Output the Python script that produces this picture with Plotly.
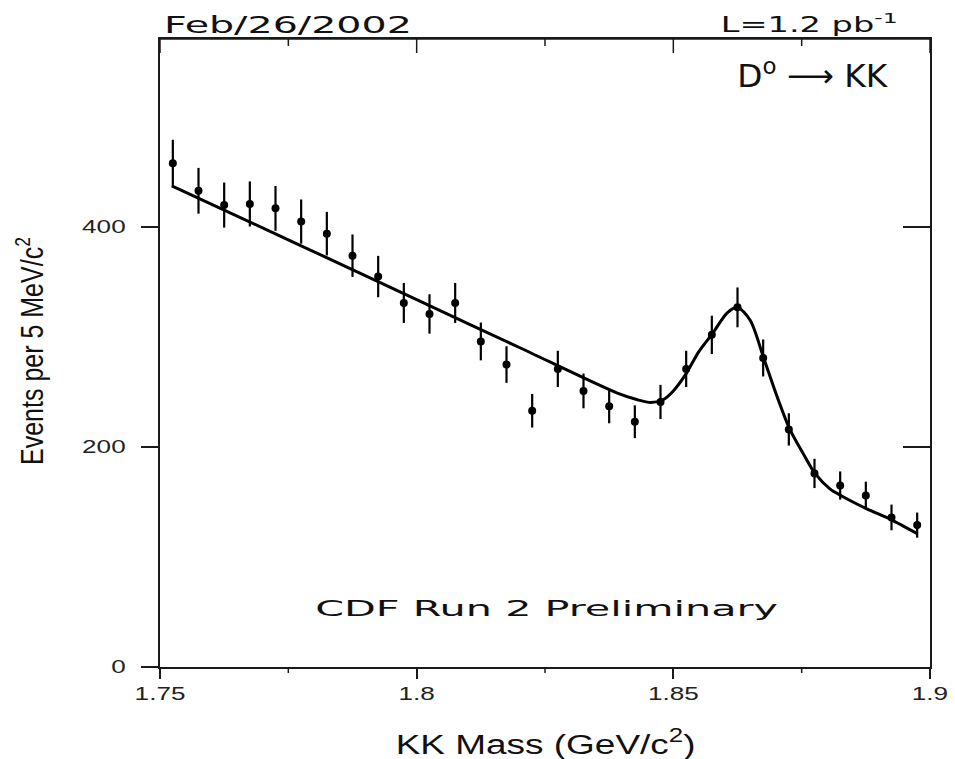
import json
import plotly.graph_objects as go

# KK invariant-mass histogram: bin centres (GeV/c^2), counts per 5 MeV/c^2 and Poisson errors
bin_mass = [1.7525, 1.7575, 1.7625, 1.7675, 1.7725, 1.7775, 1.7825, 1.7875, 1.7925, 1.7975,
            1.8025, 1.8075, 1.8125, 1.8175, 1.8225, 1.8275, 1.8325, 1.8375, 1.8425, 1.8475,
            1.8525, 1.8575, 1.8625, 1.8675, 1.8725, 1.8775, 1.8825, 1.8875, 1.8925, 1.8975]
events = [458, 433, 420, 421, 417, 405, 394, 374, 355, 331,
          321, 331, 296, 275, 233, 271, 251, 237, 223, 241,
          271, 302, 327, 281, 216, 176, 165, 156, 136, 129]
errors = [21.4, 20.8, 20.5, 20.5, 20.4, 20.1, 19.8, 19.3, 18.8, 18.2,
          17.9, 18.2, 17.2, 16.6, 15.3, 16.5, 15.8, 15.4, 14.9, 15.5,
          16.5, 17.4, 18.1, 16.8, 14.7, 13.3, 12.8, 12.5, 11.7, 11.4]

# fitted curve (linear background + D0 peak)
fit_mass = [1.7523, 1.7775, 1.8000, 1.8200, 1.8391, 1.8430, 1.8456, 1.8480, 1.8500, 1.8524,
            1.8550, 1.8576, 1.8605, 1.8625, 1.8650, 1.8676, 1.8702, 1.8726, 1.8753, 1.8776,
            1.8805, 1.8828, 1.8876, 1.8924, 1.8976]
fit_events = [437.5, 383, 334, 290.5, 249, 243, 240.5, 243, 251, 266,
              287, 303, 322, 327, 315, 281, 246, 217, 194, 176,
              162, 155.5, 144, 134, 121]

# axis ticks
x_ticks = [1.75, 1.80, 1.85, 1.90]
x_tick_text = ["1.75", "1.8", "1.85", "1.9"]
x_minor = [1.775, 1.825, 1.875]
y_ticks = [0, 200, 400]
y_tick_text = ["0", "200", "400"]

X_RANGE = [1.75, 1.9]
Y_RANGE = [0, 571]
INK = "#1a1a1a"
SANS = "Liberation Sans, Arial, sans-serif"
PLAIN = "DejaVu Sans, sans-serif"
PLOT_H = 628  # plot-area height in px, used to size the frame ticks

fig = go.Figure()
fig.add_trace(go.Scatter(
    x=fit_mass, y=fit_events, mode="lines",
    line=dict(color="black", width=3, shape="spline", smoothing=0.8),
    hoverinfo="skip", showlegend=False,
))
fig.add_trace(go.Scatter(
    x=bin_mass, y=events, mode="markers",
    marker=dict(symbol="circle", size=8, color="black"),
    error_y=dict(type="data", array=errors, visible=True, color="black", thickness=2.2, width=0),
    showlegend=False,
))
# transparent copy of the points binds the right-hand frame axis
fig.add_trace(go.Scatter(x=bin_mass, y=events, xaxis="x", yaxis="y2", mode="markers",
                         marker=dict(size=1, opacity=0), hoverinfo="skip", showlegend=False))

# top edge of the frame with its inward ticks, drawn in axis units
top = Y_RANGE[1]
per_px = (Y_RANGE[1] - Y_RANGE[0]) / PLOT_H
top_x, top_y = [X_RANGE[0], X_RANGE[1], None], [top, top, None]
for v in x_ticks:
    top_x += [v, v, None]
    top_y += [top, top - 14 * per_px, None]
for v in x_minor:
    top_x += [v, v, None]
    top_y += [top, top - 7 * per_px, None]
fig.add_trace(go.Scatter(x=top_x, y=top_y, mode="lines", line=dict(color=INK, width=1.5),
                         cliponaxis=False, hoverinfo="skip", showlegend=False))

tick_style = dict(tickwidth=1.5, tickcolor=INK, showgrid=False, zeroline=False)
tickfont = dict(family=SANS, size=18, color="#222")

# short ticks under the bottom axis
frame_line = dict(color=INK, width=1.5)
shapes = [dict(type="line", xref="x", yref="paper", x0=v, x1=v, y0=0, y1=-6 / PLOT_H,
               line=frame_line, layer="above") for v in x_minor]

fig.update_layout(
    width=955, height=759, autosize=False,
    margin=dict(l=160, r=20, t=39, b=92, pad=0),
    paper_bgcolor="white", plot_bgcolor="white",
    xaxis=dict(range=X_RANGE, tickmode="array", tickvals=x_ticks, ticktext=x_tick_text,
               ticks="outside", ticklen=10, tickfont=tickfont, ticklabelstandoff=0,
               showline=True, mirror=True, linecolor=INK, linewidth=1.5, **tick_style),
    yaxis=dict(range=Y_RANGE, tickmode="array", tickvals=y_ticks, ticktext=y_tick_text,
               ticks="outside", ticklen=17, tickfont=tickfont, ticklabelstandoff=12,
               showline=True, mirror=True, linecolor=INK, linewidth=1.5, **tick_style),
    yaxis2=dict(range=Y_RANGE, overlaying="y", side="right", anchor="x",
                tickmode="array", tickvals=y_ticks, ticks="inside", ticklen=27,
                showticklabels=False, showline=True, linecolor=INK, linewidth=1.5, **tick_style),
    shapes=shapes,
    annotations=[
        dict(text="Feb/26/2002", xref="paper", yref="paper", x=0.0026, y=1.0223,
             xanchor="left", yanchor="middle", showarrow=False,
             font=dict(family=PLAIN, size=23, color="#111")),
        dict(text="L=1.2 pb<sup>-1</sup>", xref="paper", yref="paper", x=0.9613, y=1.025,
             xanchor="right", yanchor="middle", showarrow=False,
             font=dict(family=PLAIN, size=21, color="#111")),
        dict(text="D<sup>o</sup> \u27f6 KK", xref="paper", yref="paper", x=0.848, y=0.945,
             xanchor="center", yanchor="middle", showarrow=False,
             font=dict(family=PLAIN, size=32, color="#111")),
        dict(text="CDF Run 2 Preliminary", xref="paper", yref="paper", x=0.5013, y=0.0924,
             xanchor="center", yanchor="middle", showarrow=False,
             font=dict(family=PLAIN, size=21, color="#111")),
        dict(text="KK Mass (GeV/c<sup>2</sup>)", xref="paper", yref="paper", x=0.5006, y=-0.1194,
             xanchor="center", yanchor="middle", showarrow=False,
             font=dict(family=SANS, size=28, color="#111")),
        dict(text="Events per 5 MeV/c<sup>2</sup>", xref="paper", yref="paper", x=-0.169, y=0.503,
             xanchor="center", yanchor="middle", showarrow=False, textangle=-90,
             font=dict(family=SANS, size=25, color="#111")),
    ],
)

# widen the lettering horizontally: [annotation index, mode, value, transform origin]
note_stretch = [
    [0, "w", 248, "left center"],
    [1, "w", 177, "right center"],
    [2, "w", 151, "center"],
    [3, "w", 463, "center"],
    [4, "w", 300, "center"],
    [5, "y", 1.28, "center"],
]
TICK_STRETCH = 1.45

# applied once the figure has finished drawing
post_js = """
(function(){
  var gd = document.getElementById('{plot_id}');
  var cfg = __CFG__;
  var tickScale = __TICK__;
  function stretchTicks(){
    gd.querySelectorAll('g.xtick > text, g.ytick > text').forEach(function(t){
      var tr = t.getAttribute('transform') || '';
      if (tr.indexOf('scale') >= 0) return;
      var x0 = parseFloat(t.getAttribute('x') || '0');
      t.setAttribute('transform', tr + ' translate(' + x0 + ',0) scale(' + tickScale + ',1) translate(' + (-x0) + ',0)');
    });
  }
  function stretchNotes(){
    cfg.forEach(function(c){
      var t = gd.querySelector('g.annotation[data-index="' + c[0] + '"] text.annotation-text');
      if (!t || t.dataset.stretched) return;
      var bb = t.getBBox();
      t.style.transformBox = 'fill-box';
      t.style.transformOrigin = c[3];
      if (c[1] === 'w') { t.style.transform = 'scaleX(' + (c[2] / bb.width) + ')'; }
      else { t.style.transform = 'scaleY(' + c[2] + ')'; }
      t.dataset.stretched = '1';
    });
  }
  function run(){ try { stretchTicks(); stretchNotes(); } catch (e) {} }
  gd.on('plotly_afterplot', function(){ setTimeout(run, 0); });
  setTimeout(run, 200);
})();
""".replace("__CFG__", json.dumps(note_stretch)).replace("__TICK__", str(TICK_STRETCH))

fig.write_html("out.html", post_script=post_js, config={"displayModeBar": False})
